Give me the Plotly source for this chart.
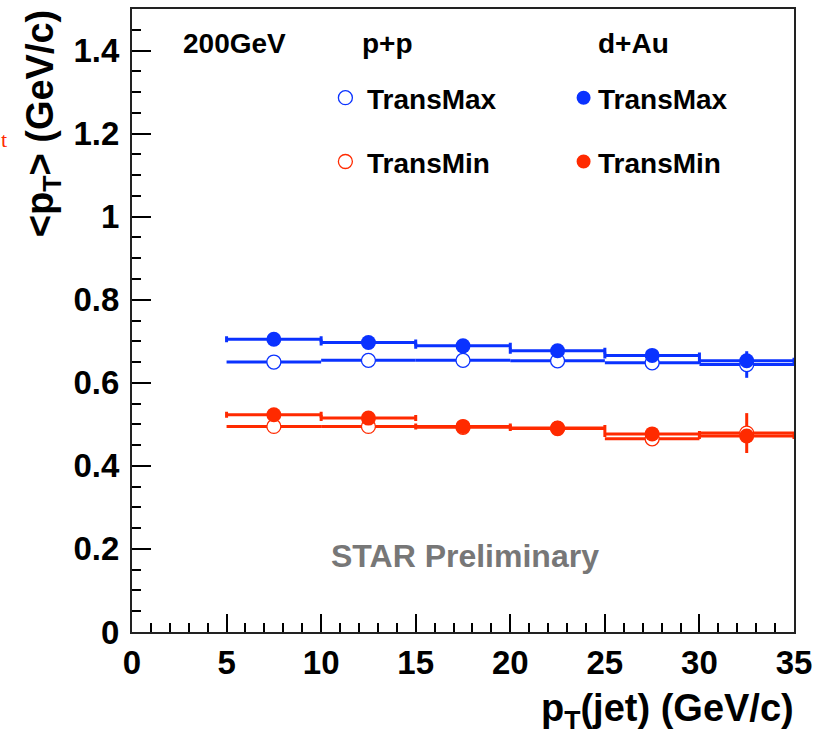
import plotly.graph_objects as go

# ---- data ----
pt_jet = [7.5, 12.5, 17.5, 22.5, 27.5, 32.5]
bin_half_width = 2.5

pp_transmax = [0.650, 0.654, 0.654, 0.653, 0.648, 0.644]
pp_transmax_err = [0.005, 0.005, 0.005, 0.006, 0.008, 0.032]
pp_transmin = [0.495, 0.495, 0.493, 0.490, 0.465, 0.479]
pp_transmin_err = [0.005, 0.005, 0.005, 0.006, 0.008, 0.048]

dau_transmax = [0.705, 0.697, 0.689, 0.677, 0.666, 0.653]
dau_transmax_err = [0.004, 0.004, 0.004, 0.005, 0.006, 0.010]
dau_transmin = [0.523, 0.515, 0.495, 0.491, 0.477, 0.472]
dau_transmin_err = [0.004, 0.004, 0.004, 0.005, 0.006, 0.010]

x_ticks = [0, 5, 10, 15, 20, 25, 30, 35]
y_ticks = [0, 0.2, 0.4, 0.6, 0.8, 1.0, 1.2, 1.4]

BLUE = "#0a32ff"
RED = "#ff2a00"
FONT = "Liberation Sans"

fig = go.Figure()


def add_series(y, err, color, filled, name):
    fig.add_trace(go.Scatter(
        x=pt_jet, y=y, mode="markers", name=name, showlegend=False,
        marker=dict(symbol="circle", size=15 if filled else 14,
                    color=color if filled else "white",
                    line=dict(color=color, width=0 if filled else 1.3)),
        error_x=dict(type="constant", value=bin_half_width, color=color,
                     thickness=3, width=3 if filled else 0),
        error_y=dict(type="data", array=err, color=color,
                     thickness=3, width=0),
    ))


add_series(pp_transmax, pp_transmax_err, BLUE, False, "p+p TransMax")
add_series(pp_transmin, pp_transmin_err, RED, False, "p+p TransMin")
add_series(dau_transmax, dau_transmax_err, BLUE, True, "d+Au TransMax")
add_series(dau_transmin, dau_transmin_err, RED, True, "d+Au TransMin")

L, R, T, B = 132, 20, 7, 106
W, H = 819, 738
pw, ph = W - L - R, H - T - B


def px(xp):
    return (xp - L) / pw


def py(yp):
    return (H - B - yp) / ph


tick_font = dict(family=FONT, size=33, color="black", weight="bold")

fig.update_xaxes(
    range=[0, 35], tickvals=x_ticks, ticks="inside", ticklen=18, tickwidth=1.5,
    tickcolor="black", showline=True, linecolor="#222", linewidth=2, mirror=True,
    showgrid=False, zeroline=False, tickfont=tick_font,
    minor=dict(dtick=1, ticks="inside", ticklen=9, tickwidth=1.5, tickcolor="black", showgrid=False),
)
fig.update_yaxes(
    range=[0, 1.5], tickvals=y_ticks, ticks="inside", ticklen=19, tickwidth=1.5,
    tickcolor="black", showline=True, linecolor="#222", linewidth=2, mirror=True,
    showgrid=False, zeroline=False, tickfont=tick_font, ticklabelstandoff=4,
    minor=dict(dtick=0.05, ticks="inside", ticklen=9, tickwidth=1.5, tickcolor="black", showgrid=False),
)

ann = []


def text(s, x, y, size, xanchor="left", yanchor="middle", color="black", bold=True,
         angle=0, family=FONT):
    f = dict(family=family, size=size, color=color)
    if bold:
        f["weight"] = "bold"
    ann.append(dict(text=s, x=x, y=y, xref="paper", yref="paper", xanchor=xanchor,
                    yanchor=yanchor, showarrow=False, textangle=angle, font=f))


text("200GeV", px(181), py(42), 28)
text("p+p", px(362), py(42), 28)
text("d+Au", px(600), py(42), 28)
text("TransMax", px(367), py(98), 28)
text("TransMin", px(367), py(162), 28)
text("TransMax", px(600), py(98), 28)
text("TransMin", px(600), py(162), 28)
text("STAR Preliminary", px(468), py(556), 32, xanchor="center", color="#777777")
text("&lt;p<sub>T</sub>&gt; (GeV/c)", px(42), py(6), 38, xanchor="center",
     yanchor="top", angle=-90)
text("p<sub>T</sub>(jet) (GeV/c)", px(801), py(711), 38, xanchor="right")
text("t", px(-2), py(138), 22, bold=False, color=RED, family="Liberation Serif")

shapes = []


def marker(xp, yp, color, filled):
    r = 7
    shapes.append(dict(type="circle", xref="paper", yref="paper",
                       xsizemode="pixel", ysizemode="pixel",
                       xanchor=px(xp), yanchor=py(yp),
                       x0=-r, x1=r, y0=-r, y1=r,
                       line=dict(color=color, width=0 if filled else 1.3),
                       fillcolor=color if filled else "white"))


marker(347, 96, BLUE, False)
marker(347, 160, RED, False)
marker(587, 96, BLUE, True)
marker(587, 160, RED, True)

fig.update_layout(
    width=W, height=H, margin=dict(l=L, r=R, t=T, b=B),
    paper_bgcolor="white", plot_bgcolor="white",
    annotations=ann, shapes=shapes, showlegend=False,
)

fig.write_html("out.html")
